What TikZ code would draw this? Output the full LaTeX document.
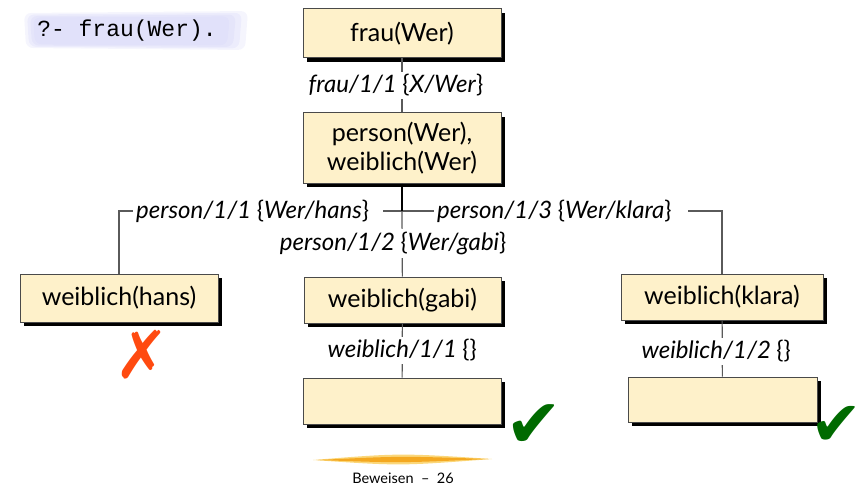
\documentclass[tikz,border=0pt]{standalone}
\usepackage{fontspec}
\setmainfont{Lato}
\setmonofont{Liberation Mono}
\newfontfamily\symfont{DejaVu Sans}
\usetikzlibrary{shadows}

\definecolor{boxfill}{HTML}{FEF1CA}
\definecolor{boxline}{HTML}{4A4A4A}
\definecolor{edgegray}{HTML}{5A5A5A}
\definecolor{failred}{HTML}{FF4A10}
\definecolor{okgreen}{HTML}{006A00}
\definecolor{querybg}{HTML}{D8D8F8}
\definecolor{brushorange}{HTML}{F4A820}
\definecolor{brushlight}{HTML}{FBD77A}

\tikzset{
  goal/.style={draw=boxline, line width=1pt, fill=boxfill,
    font=\fontsize{25}{29}\selectfont, align=center, inner sep=0pt,
    drop shadow={shadow xshift=4pt, shadow yshift=-4pt, fill=black, opacity=1}},
  edge/.style={draw=edgegray, line width=1.2pt},
  trunk/.style={draw=black, line width=2pt},
  lbl/.style={fill=white, inner sep=3pt, font=\fontsize{24}{28}\selectfont\itshape},
  verdict/.style={inner sep=0pt}
}

\begin{document}
\begin{tikzpicture}[x=1pt, y=-1pt]
\useasboundingbox (0,0) rectangle (863,487);

% query banner, brushed look
\foreach \dx/\op in {0/0.25, 3/0.3, 6/0.35, 9/0.35} {
  \fill[querybg, opacity=\op, rounded corners=7pt]
    (24+\dx,13+\dx*0.5) -- (248-\dx*2,11+\dx*0.6) -- (245-\dx*2,50-\dx*0.5)
    -- (26+\dx,48-\dx*0.4) -- cycle;
}
\node[font=\ttfamily\fontsize{23}{27}\selectfont, inner sep=0pt] (query) at (127,31) {?- frau(Wer).};

% goal boxes
\node[goal, minimum width=198pt, minimum height=49pt] (frau) at (402,33.5) {frau(Wer)};
\node[goal, minimum width=198pt, minimum height=70pt] (person) at (402,148) {person(Wer),\\weiblich(Wer)};
\node[goal, minimum width=198pt, minimum height=48pt] (hans) at (119,298) {weiblich(hans)};
\node[goal, minimum width=197pt, minimum height=46pt] (gabi) at (402.5,300) {weiblich(gabi)};
\node[goal, minimum width=202pt, minimum height=46pt] (klara) at (722,297) {weiblich(klara)};
\node[goal, minimum width=198pt, minimum height=46pt] (done1) at (402,401) {};
\node[goal, minimum width=189pt, minimum height=45pt] (done2) at (722.5,399.5) {};

% resolution steps
\coordinate (split) at (402,211);
\draw[edge] (frau) -- node[lbl, xshift=-6pt] (s1) {frau/1/1 \textup{\{}X/Wer\textup{\}}} (person);
\draw[edge] (hans.north) |- (split) -| (klara.north);
\draw[edge] (split) -- node[lbl, xshift=-9pt] (s3) {person/1/2 \textup{\{}Wer/gabi\textup{\}}} (gabi);
\draw[trunk] (person.south) -- (split);
\node[lbl, anchor=west] (s2) at (133,211) {person/1/1 \textup{\{}Wer/hans\textup{\}}\hspace*{11pt}};
\node[lbl, anchor=west] (s4) at (434,211) {person/1/3 \textup{\{}Wer/klara\textup{\}}\hspace*{13pt}};
\draw[edge] (gabi) -- node[lbl] (s5) {weiblich/1/1 \textup{\{\}}} (done1);
\draw[edge] (klara) -- node[lbl, yshift=-3pt, xshift=-6pt] (s6) {weiblich/1/2 \textup{\{\}}} (done2);

% outcomes
\node[verdict, text=failred, font=\symfont\fontsize{66}{66}\selectfont] (fail) at (142,355) {✗};
\node[verdict, text=okgreen, font=\symfont\fontsize{68}{68}\selectfont] (ok1) at (534,426) {✔};
\node[verdict, text=okgreen, font=\symfont\fontsize{62}{62}\selectfont] (ok2) at (836,426) {✔};

% footer
\fill[brushlight] (313,460) .. controls (400,453) .. (492,459) .. controls (400,466) .. (313,460);
\fill[brushorange] (318,460) .. controls (400,456) .. (488,459) .. controls (400,463) .. (318,460);
\node[font=\fontsize{14.5}{17}\selectfont, inner sep=0pt] (footer) at (403,478) {Beweisen \ – \ 26};
\end{tikzpicture}
\end{document}
